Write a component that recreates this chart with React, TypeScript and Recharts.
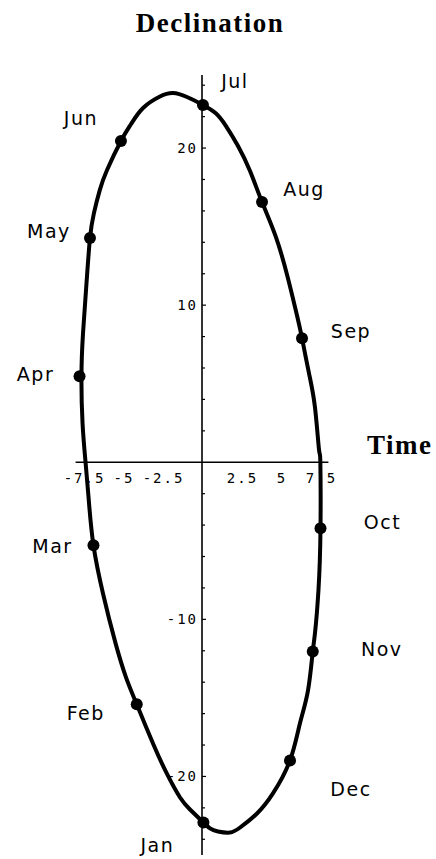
import { ComposedChart, Line, Scatter, XAxis, YAxis, ReferenceLine } from "recharts";

// equation of time (minutes) and declination (degrees) at the first of each month
const months = ["Jan", "Feb", "Mar", "Apr", "May", "Jun", "Jul", "Aug", "Sep", "Oct", "Nov", "Dec"];
const monthTime = [0.09, -4.13, -6.87, -7.75, -7.09, -5.13, 0.06, 3.8, 6.33, 7.5, 7.01, 5.57];
const monthDecl = [-22.93, -15.41, -5.29, 5.48, 14.27, 20.45, 22.74, 16.56, 7.9, -4.2, -12.04, -18.98];

// traced outline of the loop, Jan -> Dec -> Jan
const loopTime = [
  0.09, -0.76, -1.39, -2.23, -3.1, -4.13, -4.81, -5.47, -6.27, -6.87, -7.15, -7.37, -7.56, -7.63,
  -7.53, -7.31, -7.09, -6.84, -6.47, -6.01, -5.13, -4.49, -3.73, -2.66, -1.84, -0.95, 0.06, 0.89,
  1.52, 2.28, 3.04, 3.8, 4.68, 5.44, 6.01, 6.33, 6.77, 7.15, 7.41, 7.49, 7.5, 7.37, 7.15, 7.01,
  6.71, 6.2, 5.57, 4.49, 3.48, 2.41, 1.77, 1.01, 0.51, 0.09,
];
const loopDecl = [
  -22.93, -22.1, -21.34, -19.81, -17.9, -15.41, -13.69, -11.53, -8.34, -5.29, -2.61, 0, 2.48, 5.48,
  8.22, 11.4, 14.27, 15.86, 17.32, 18.6, 20.45, 21.53, 22.55, 23.28, 23.5, 23.25, 22.74, 22.2,
  21.4, 20.13, 18.54, 16.56, 14.33, 11.72, 9.36, 7.9, 5.67, 3.5, 0.76, 0, -4.2, -8.15, -10.89,
  -12.04, -14.52, -16.62, -18.98, -21.08, -22.36, -23.25, -23.57, -23.5, -23.31, -22.93,
];

const xTickLabels = ["-7.5", "-5", "-2.5", "2.5", "5", "7.5"];
const yTickLabels = ["-20", "-10", "10", "20"];
const yMinorTicks = [-24, -22, -20, -18, -16, -14, -12, -10, -8, -6, -4, -2, 2, 4, 6, 8, 10, 12, 14, 16, 18, 20, 22, 24];

const loopData = loopTime.map((x, i) => ({ x, y: loopDecl[i] }));
const monthData = months.map((name, i) => ({ name, x: monthTime[i], y: monthDecl[i] }));
const xTickData = xTickLabels.map((label) => ({ label, x: Number(label), y: 0 }));
const yTickData = yTickLabels.map((label) => ({ label, x: 0, y: Number(label) }));
const yMinorData = yMinorTicks.map((y) => ({ x: 0, y }));

// label placement around each dot (px)
const labelOffset: Record<string, [number, number]> = {
  Jan: [-46, 23],
  Feb: [-51, 9],
  Mar: [-41, 1],
  Apr: [-44, -2],
  May: [-41, -7],
  Jun: [-40, -23],
  Jul: [32, -24],
  Aug: [42, -13],
  Sep: [49, -7],
  Oct: [62, -6],
  Nov: [69, -2],
  Dec: [61, 29],
};

const tickFont = { fontFamily: "'DejaVu Sans Mono', monospace", fontSize: 14, letterSpacing: 2, fill: "#000" };
const monthFont = { fontFamily: "'DejaVu Sans', sans-serif", fontSize: 19, letterSpacing: 1.5, fill: "#000" };
const titleFont = { fontFamily: "'Liberation Serif', serif", fontWeight: 700, fontSize: 27, letterSpacing: 1.5 };

export default function App() {
  return (
    <div style={{ position: "absolute", left: 0, top: 0, width: 436, height: 859, overflow: "hidden", background: "#fff" }}>
      <div style={{ position: "absolute", left: 0, top: 8, width: 420, textAlign: "center", ...titleFont }}>
        Declination
      </div>
      <div style={{ position: "absolute", left: 367, top: 430, ...titleFont }}>Time</div>

      <ComposedChart width={436} height={859} margin={{ top: 75, right: 107.6, bottom: 4, left: 75.6 }}>
        <XAxis type="number" dataKey="x" domain={[-8, 8]} hide />
        <YAxis type="number" dataKey="y" domain={[-25, 24.65]} hide />

        <ReferenceLine y={0} stroke="#000" strokeWidth={1.6} />
        <ReferenceLine x={0} stroke="#000" strokeWidth={1.6} />

        <Scatter
          data={yMinorData}
          isAnimationActive={false}
          shape={(p: any) => (
            <line x1={p.cx} y1={p.cy} x2={p.cx + (p.payload.y % 10 === 0 ? 4 : 3)} y2={p.cy} stroke="#000" strokeWidth={1.2} />
          )}
        />
        <Scatter
          data={xTickData}
          isAnimationActive={false}
          shape={(p: any) => (
            <text x={p.cx + 1} y={p.cy + 16} textAnchor="middle" dominantBaseline="central" {...tickFont}>
              {p.payload.label}
            </text>
          )}
        />
        <Scatter
          data={yTickData}
          isAnimationActive={false}
          shape={(p: any) => (
            <text x={p.cx - 4} y={p.cy} textAnchor="end" dominantBaseline="central" {...tickFont}>
              {p.payload.label}
            </text>
          )}
        />

        <Line
          data={loopData}
          dataKey="y"
          type="natural"
          stroke="#000"
          strokeWidth={4}
          dot={false}
          isAnimationActive={false}
        />

        <Scatter
          data={monthData}
          isAnimationActive={false}
          shape={(p: any) => {
            const [dx, dy] = labelOffset[p.payload.name];
            return (
              <g>
                <circle cx={p.cx} cy={p.cy} r={6} fill="#000" />
                <text x={p.cx + dx} y={p.cy + dy} textAnchor="middle" dominantBaseline="central" {...monthFont}>
                  {p.payload.name}
                </text>
              </g>
            );
          }}
        />
      </ComposedChart>
    </div>
  );
}
